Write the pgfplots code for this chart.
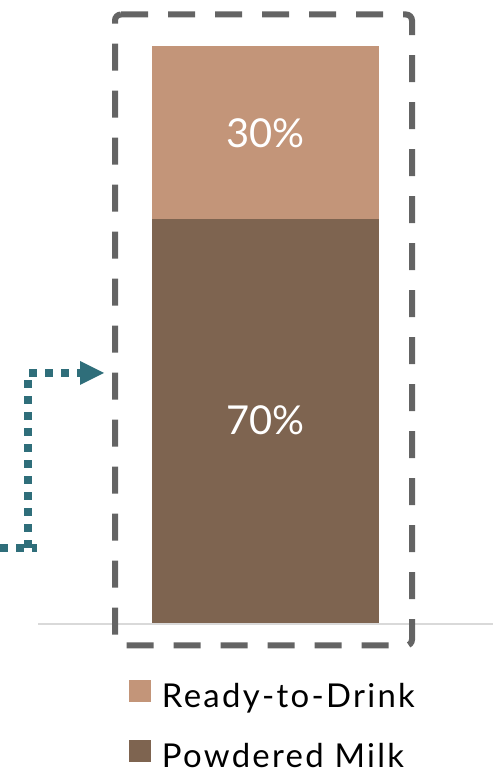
\documentclass[border=0pt]{standalone}
\usepackage{fontspec}
\setmainfont{Lato}
\newfontfamily\legfont[LetterSpace=7]{Lato}
\usepackage{pgfplots}
\pgfplotsset{compat=1.18}
\definecolor{lightc}{RGB}{195,149,121}
\definecolor{darkc}{RGB}{126,100,80}
\definecolor{framegray}{RGB}{100,100,100}
\definecolor{arrowteal}{RGB}{47,110,122}
\definecolor{basegray}{RGB}{217,217,217}
\begin{document}
\begin{tikzpicture}
\begin{axis}[name=ax, scale only axis, width=493bp, height=778bp,
  xmin=0, xmax=493, ymin=-26.644, ymax=107.958,
  hide axis, clip=false,
  ybar stacked, bar width=227bp,
  reverse legend,
  legend cell align=left,
  legend image code/.code={\fill[#1] (0bp,-5bp) rectangle (22bp,17bp);},
  legend style={at={(0.26166,0.12597)}, anchor=north west, draw=none, fill=none,
    inner sep=0pt, outer sep=0pt, row sep=30bp, column sep=11bp,
    font=\legfont\fontsize{33}{38}\selectfont,
    nodes={inner sep=0pt, text height=24bp, text depth=2bp}},
]
\addplot[fill=darkc, draw=none] coordinates {(265.5,70)};
\addlegendentry{Powdered Milk}
\addplot[fill=lightc, draw=none] coordinates {(265.5,30)};
\addlegendentry{Ready-to-Drink}
\end{axis}
\begin{scope}[shift={(ax.north west)}, x=1bp, y=-1bp]
  \draw[basegray, line width=1.5bp] (38,624) -- (493,624);
  \draw[framegray, line width=6bp, dash pattern=on 27bp off 20bp, rounded corners=6bp]
    (115,14.5) -- (412,14.5) -- (412,645.5) -- (115,645.5) -- cycle;
  \draw[arrowteal, line width=8bp, dash pattern=on 8bp off 8bp] (0,548) -- (37,548);
  \draw[arrowteal, line width=8bp, dash pattern=on 8bp off 8bp] (28,548) -- (28,373) -- (80,373);
  \fill[arrowteal] (80,361) -- (104,373) -- (80,385) -- cycle;
  \node[text=white, font=\fontsize{40}{48}\selectfont] at (265.5,133) {30\%};
  \node[text=white, font=\fontsize{40}{48}\selectfont] at (265.5,420) {70\%};
\end{scope}
\pgfresetboundingbox
\path[use as bounding box] (ax.south west) rectangle (ax.north east);
\end{tikzpicture}
\end{document}
